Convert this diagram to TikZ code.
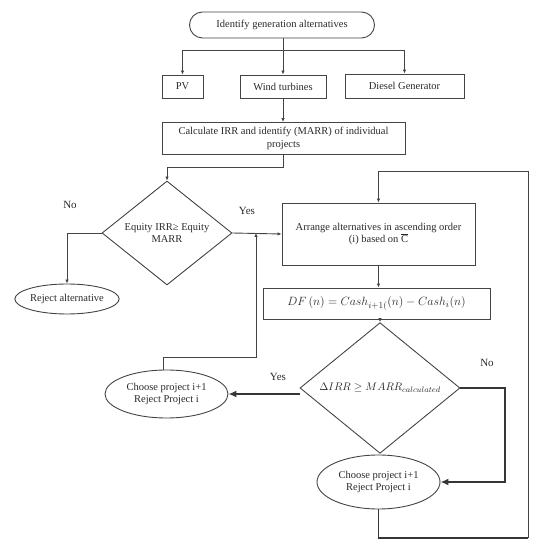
\documentclass[tikz,border=0pt]{standalone}
\usepackage{fontspec}
\setmainfont{Liberation Serif}
\usetikzlibrary{shapes.geometric,arrows.meta,calc}
\definecolor{ln}{HTML}{444444}
\definecolor{tx}{HTML}{2A2A2A}
\begin{document}
\begin{tikzpicture}[x=1pt,y=-1pt,
  font=\fontsize{10.5}{12.5}\selectfont, text=tx,
  base/.style={draw=ln, line width=0.9pt, inner sep=1pt, align=center},
  boxn/.style={base, rectangle},
  roundn/.style={base, rectangle, rounded corners=13pt},
  dia/.style={base, diamond, inner sep=0pt},
  ell/.style={base, ellipse, inner sep=0pt},
  arr/.style={draw=ln, line width=0.9pt, -{Latex[length=4pt,width=3.5pt]}},
  arrthick/.style={draw=ln!80!black, line width=1.6pt, -{Latex[length=8pt,width=7pt]}},
  thickline/.style={draw=ln!80!black, line width=1.6pt},
  lbl/.style={font=\fontsize{11}{13}\selectfont}
]
\useasboundingbox (0,0) rectangle (550,548);

\node[roundn, minimum width=185pt, minimum height=26pt] (top) at (282,25) {Identify generation alternatives};
\node[boxn, minimum width=41pt, minimum height=23pt] (pv) at (182.5,86.5) {PV};
\node[boxn, minimum width=86pt, minimum height=23pt] (wind) at (283,86.5) {Wind turbines};
\node[boxn, minimum width=119pt, minimum height=24pt] (diesel) at (404.5,86) {Diesel Generator};
\node[boxn, minimum width=243pt, minimum height=32pt] (calc) at (283.5,138.5) {Calculate IRR and identify (MARR) of individual\\projects};
\node[dia, minimum width=130pt, minimum height=94pt] (eq) at (167,233) {Equity IRR≥ Equity\\MARR};
\node[ell, minimum width=97pt, minimum height=30pt] (rej) at (67,299) {Reject alternative};
\node[boxn, minimum width=193pt, minimum height=62pt] (arr) at (378.5,234) {Arrange alternatives in ascending order\\(i) based on $\overline{\mathrm{C}}$};
\node[boxn, minimum width=227pt, minimum height=31pt, font=\fontsize{13}{15}\selectfont] (df) at (376.5,303.5) {$DF\,(n) = Cash_{i+1(}(n) - Cash_{i}(n)$};
\node[dia, minimum width=160pt, minimum height=96pt, font=\fontsize{11}{13}\selectfont] (d2) at (380,388) {$\Delta IRR \geq MARR_{calculated}$};
\node[ell, minimum width=123pt, minimum height=48pt] (ch1) at (166.5,394) {Choose project i+1\\Reject Project i};
\node[ell, minimum width=123pt, minimum height=54pt] (ch2) at (378.5,482) {Choose project i+1\\Reject Project i};

\node[lbl] (no1) at (70,205) {No};
\node[lbl] (yes1) at (247,211) {Yes};
\node[lbl] (yes2) at (278,377) {Yes};
\node[lbl] (no2) at (487,363) {No};

% top splits
\coordinate (j) at (283,50);
\draw[draw=ln, line width=0.9pt] (top.south -| j) -- (j);
\draw[arr] (j) -| (pv.north);
\draw[arr] (j) -- (wind.north);
\draw[arr] (j) -| (diesel.north);
\draw[arr] (wind.south) -- (calc.north -| wind.south);
% calc to eq
\coordinate (c1) at (283,167);
\draw[arr] (calc.south -| c1) -- (c1) -| (eq.north);
% no branch
\draw[arr] (eq.west) -| (rej.north);
% yes branch
\draw[arr] (eq.east) -- (arr.west);
% arrange to df, df to d2
\draw[arr] (arr.south) -- (df.north -| arr.south);
\draw[arr] (df.south -| d2.north) -- (d2.north);
% yes2
\draw[arrthick] (d2.west |- ch1.east) -- (ch1.east);
% ch1 back up to yes line
\coordinate (u1) at (256,357);
\draw[arr] (ch1.north -| 163,0) |- (u1) -- (u1 |- eq.east);
% no2
\coordinate (n2) at (505,388);
\draw[arrthick] (d2.east) -- (n2) |- (ch2.east);
% loop back
\coordinate (lb) at (528,538);
\coordinate (lt) at (528,171);
\draw[thickline] (ch2.south) -- (ch2.south |- lb) -- (lb);
\draw[arr] (lb) -- (lt) -| (arr.north);
\end{tikzpicture}
\end{document}
